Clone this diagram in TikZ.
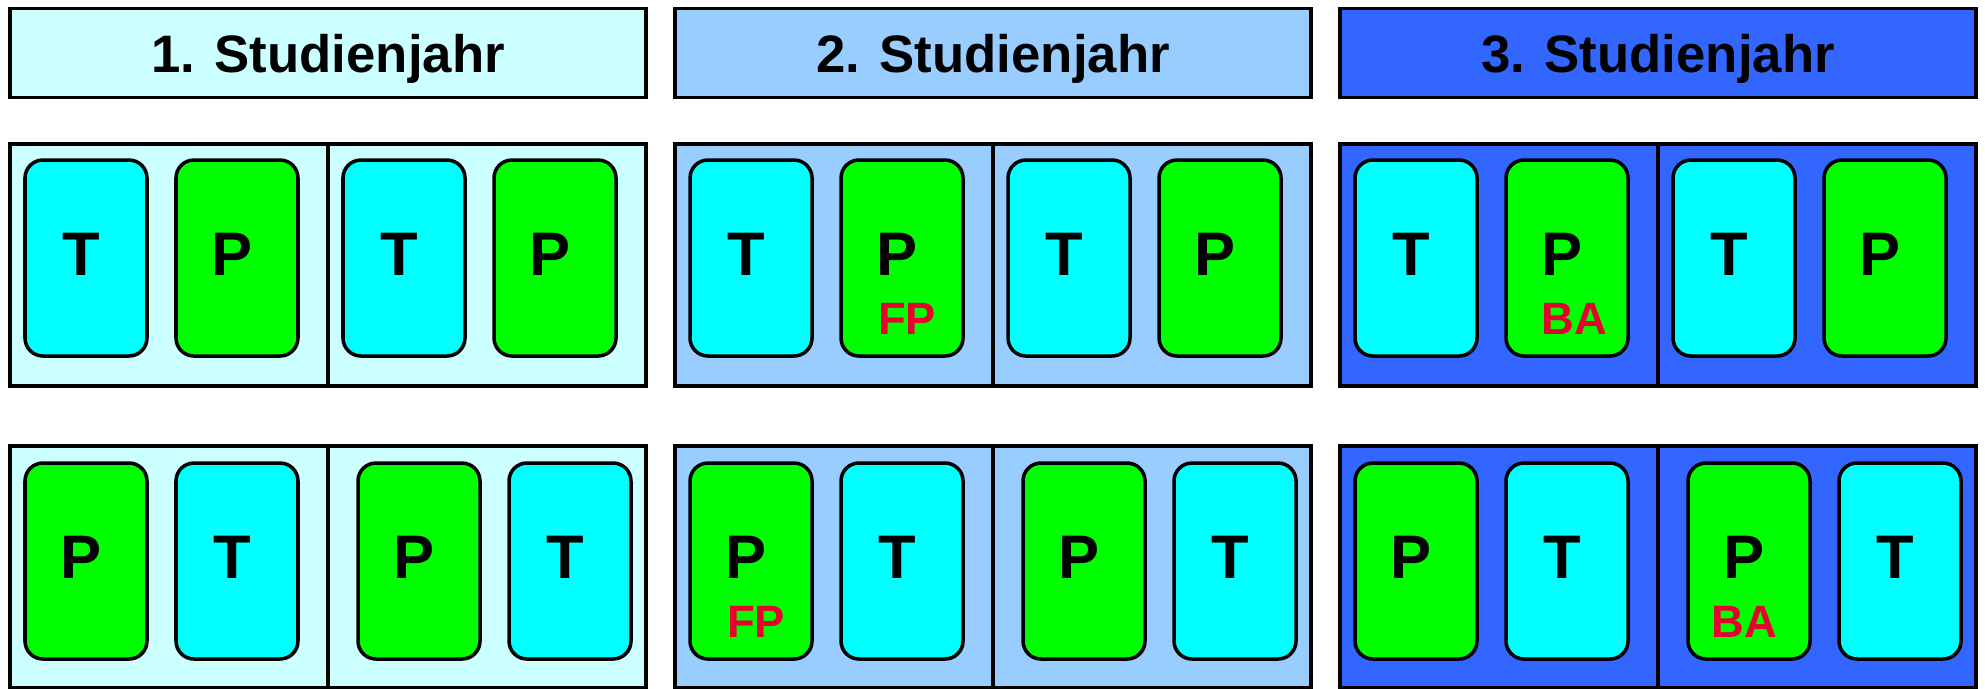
\documentclass[tikz,border=0pt]{standalone}
\usepackage{fontspec}
\setmainfont{Liberation Sans}
\usetikzlibrary{positioning}
\definecolor{JahrEins}{HTML}{CCFFFF}
\definecolor{JahrZwei}{HTML}{99CCFF}
\definecolor{JahrDrei}{HTML}{3366FF}
\definecolor{KCyan}{HTML}{00FFFF}
\definecolor{KGruen}{HTML}{00FF00}
\definecolor{MRot}{HTML}{E8002E}
\tikzset{
    jahr/.style = {draw, rectangle, line width=0.9pt,
        minimum width=63.6mm,
        minimum height=8.9mm,
        font=\fontsize{15}{18}\selectfont\bfseries, text depth=0pt},
    semester/.style = {draw, rectangle, line width=0.9pt,
        minimum width=63.6mm,
        minimum height=24.2mm},
    tkarte/.style = {draw, rectangle, rounded corners=1.8mm, line width=1pt, fill=KCyan,
        minimum width=12.2mm,
        minimum height=19.6mm, inner sep=0pt, text depth=0.8mm,
        execute at begin node=\kern-1mm,
        font=\fontsize{17.5}{20}\selectfont\bfseries},
    pkarte/.style = {tkarte, fill=KGruen},
    marke/.style = {text=MRot, inner sep=0pt,
        font=\fontsize{12.9}{15}\selectfont\bfseries}
}

\begin{document}
\begin{tikzpicture}[x=0.1mm,y=-0.1mm]
    \useasboundingbox (0,0) rectangle (1985,688);
    % Studienjahre
    \node[jahr, fill=JahrEins] (j1) at (328,53) {1. Studienjahr};
    \node[jahr, fill=JahrZwei] (j2) at (993,53) {2. Studienjahr};
    \node[jahr, fill=JahrDrei] (j3) at (1658,53) {3. Studienjahr};
    % Semesterbloecke
        \node[semester, fill=JahrEins] (s1o) at (328,265) {};
        \node[semester, fill=JahrEins] (s1u) at (328,567) {};
        \node[semester, fill=JahrZwei] (s2o) at (993,265) {};
        \node[semester, fill=JahrZwei] (s2u) at (993,567) {};
        \node[semester, fill=JahrDrei] (s3o) at (1658,265) {};
        \node[semester, fill=JahrDrei] (s3u) at (1658,567) {};
        \draw[line width=0.9pt] (s1o.north) -- (s1o.south);
        \draw[line width=0.9pt] (s1u.north) -- (s1u.south);
        \draw[line width=0.9pt] (s2o.north) -- (s2o.south);
        \draw[line width=0.9pt] (s2u.north) -- (s2u.south);
        \draw[line width=0.9pt] (s3o.north) -- (s3o.south);
        \draw[line width=0.9pt] (s3u.north) -- (s3u.south);
    % 1. Studienjahr
        \node[tkarte] (k1o1) at (86,258) {T};
        \node[pkarte] (k1o2) at (237,258) {P};
        \node[tkarte] (k1o3) at (404,258) {T};
        \node[pkarte] (k1o4) at (555,258) {P};
        \node[pkarte] (k1u1) at (86,561) {P};
        \node[tkarte] (k1u2) at (237,561) {T};
        \node[pkarte] (k1u3) at (419,561) {P};
        \node[tkarte] (k1u4) at (570,561) {T};
    % 2. Studienjahr
        \node[tkarte] (k2o1) at (751,258) {T};
        \node[pkarte] (k2o2) at (902,258) {P};
        \node[tkarte] (k2o3) at (1069,258) {T};
        \node[pkarte] (k2o4) at (1220,258) {P};
        \node[pkarte] (k2u1) at (751,561) {P};
        \node[tkarte] (k2u2) at (902,561) {T};
        \node[pkarte] (k2u3) at (1084,561) {P};
        \node[tkarte] (k2u4) at (1235,561) {T};
    % 3. Studienjahr
        \node[tkarte] (k3o1) at (1416,258) {T};
        \node[pkarte] (k3o2) at (1567,258) {P};
        \node[tkarte] (k3o3) at (1734,258) {T};
        \node[pkarte] (k3o4) at (1885,258) {P};
        \node[pkarte] (k3u1) at (1416,561) {P};
        \node[tkarte] (k3u2) at (1567,561) {T};
        \node[pkarte] (k3u3) at (1749,561) {P};
        \node[tkarte] (k3u4) at (1900,561) {T};
    % FP und BA
        \node[marke, below=4.5mm of k2o2.center, xshift=0.5mm] (fp1) {FP};
        \node[marke, below=4.5mm of k2u1.center, xshift=0.5mm] (fp2) {FP};
        \node[marke, below=4.5mm of k3o2.center, xshift=0.7mm] (ba1) {BA};
        \node[marke, below=4.5mm of k3u3.center, xshift=-0.5mm] (ba2) {BA};
\end{tikzpicture}
\end{document}
